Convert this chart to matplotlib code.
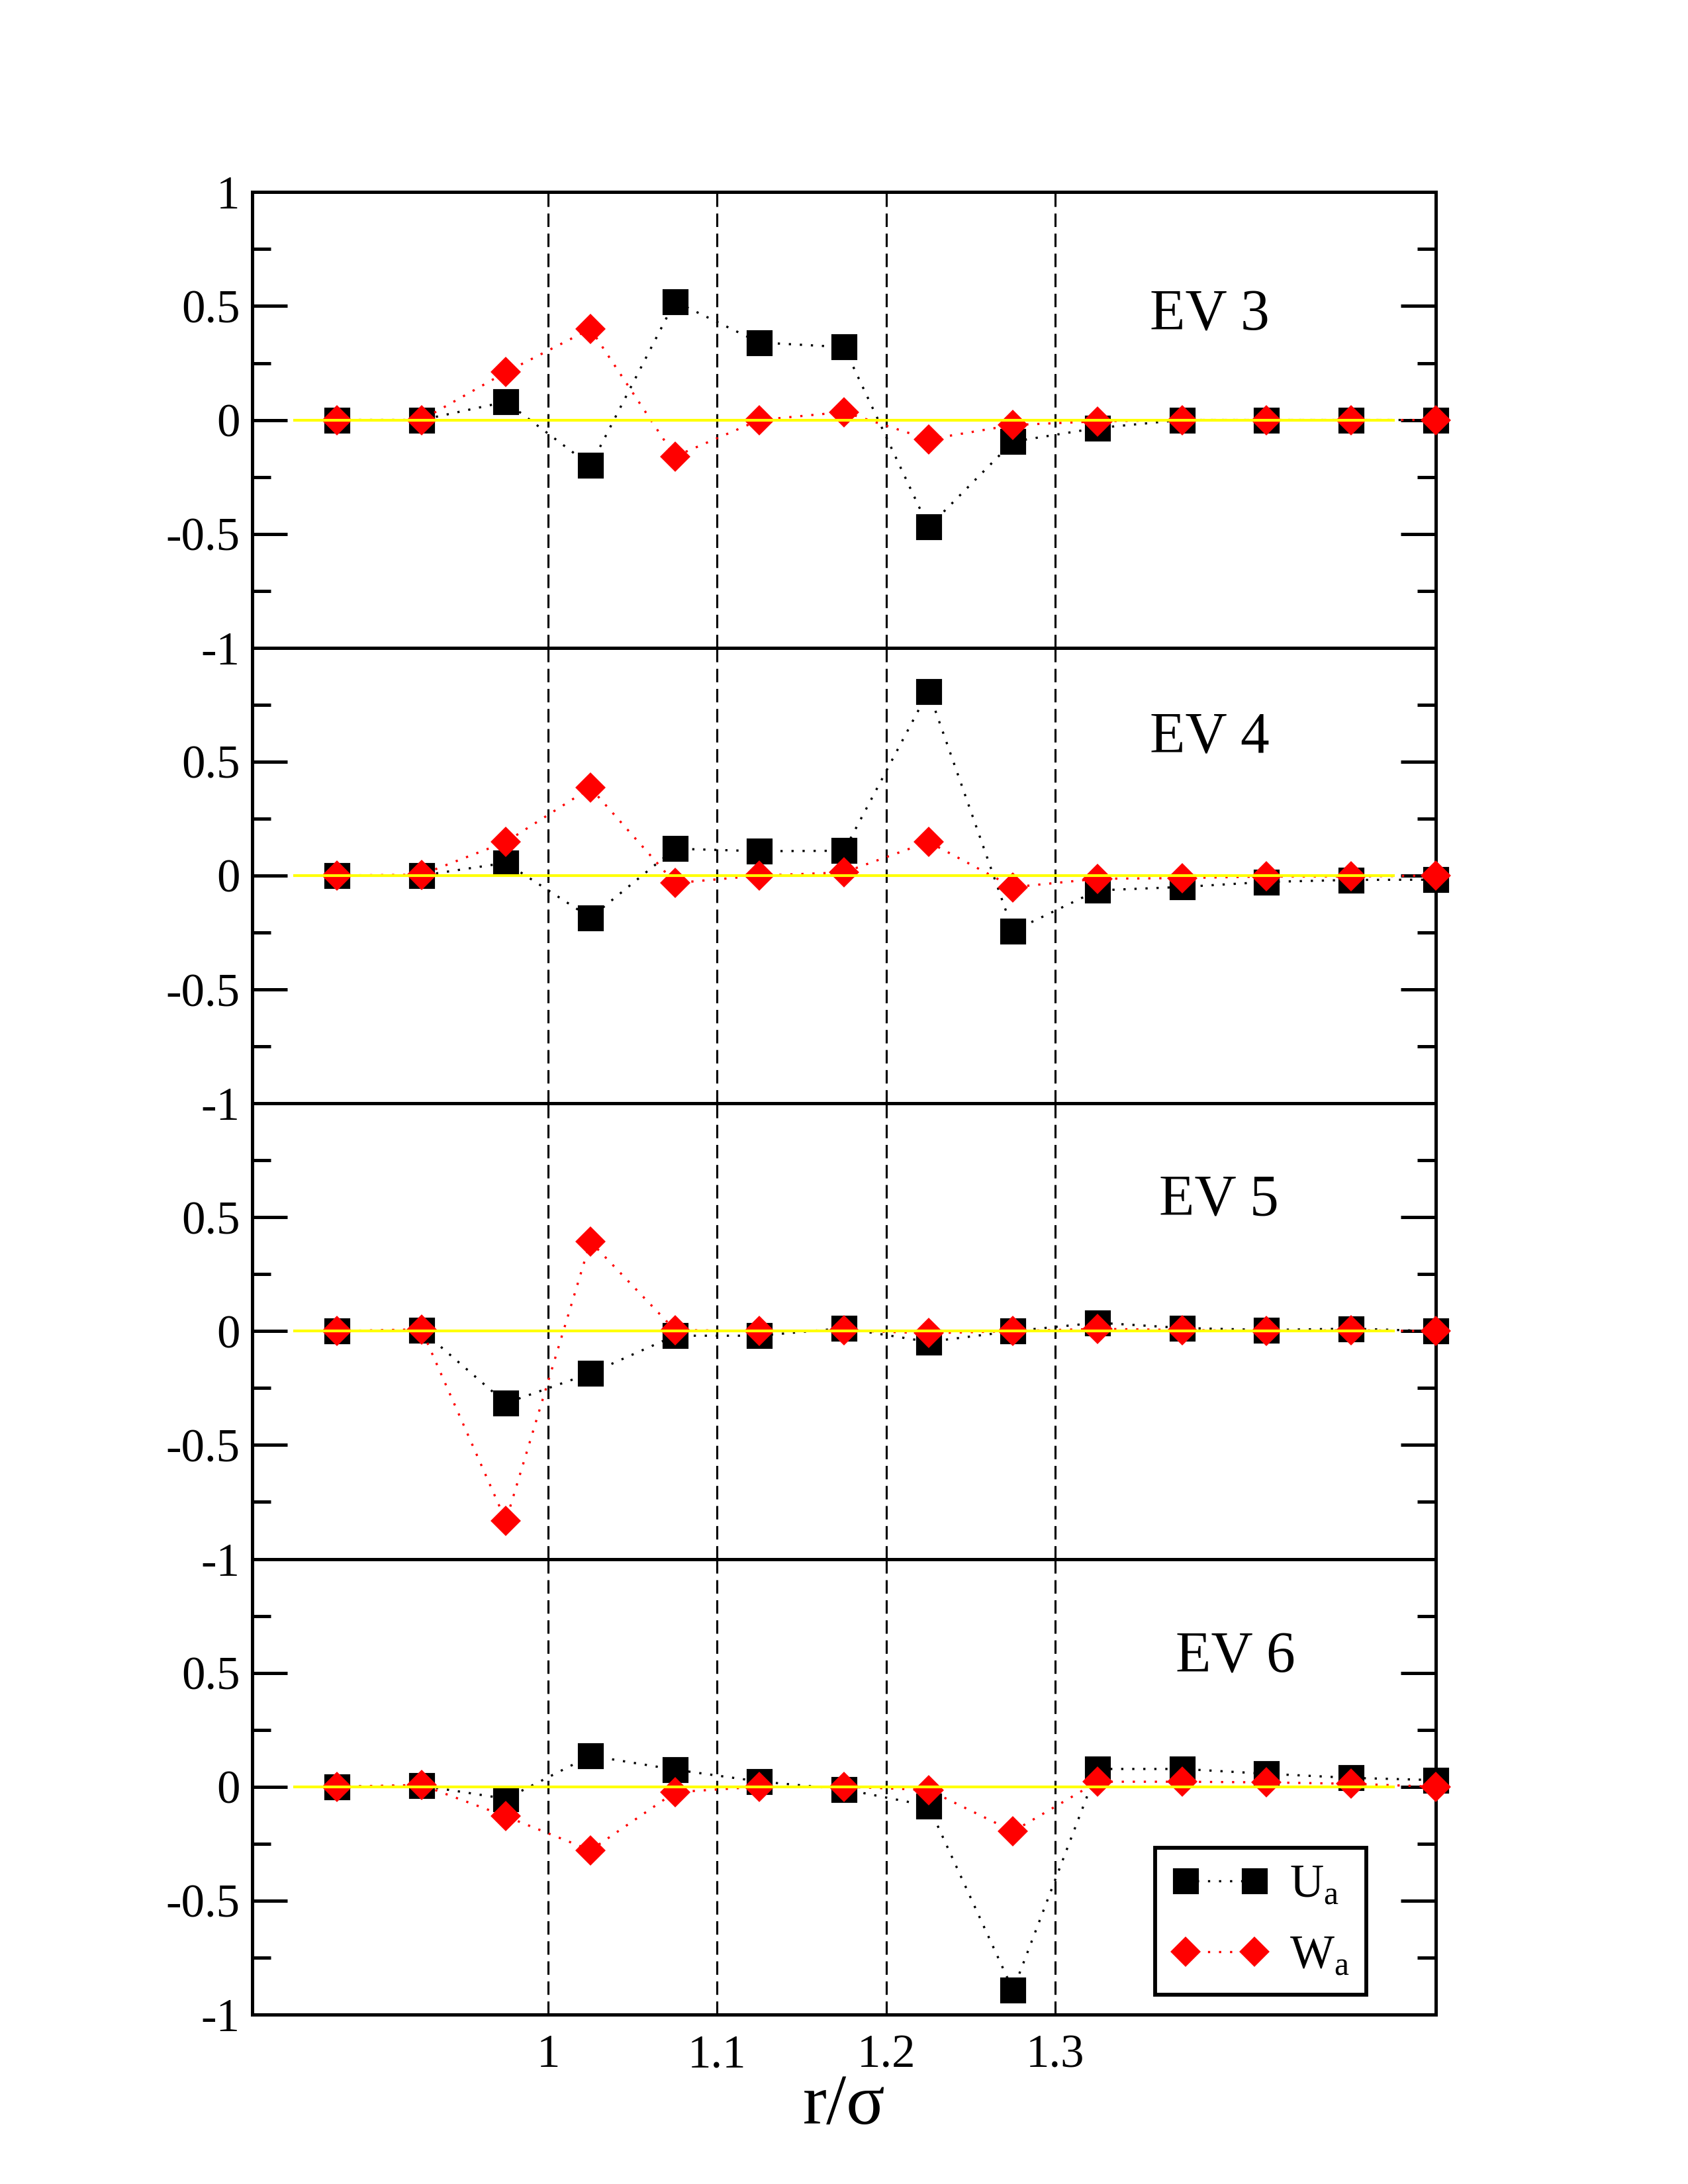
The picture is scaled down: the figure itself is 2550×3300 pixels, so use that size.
import numpy as np
import matplotlib as mpl
mpl.use('Agg')
from matplotlib import pyplot as plt
from matplotlib.ticker import MultipleLocator, FixedLocator

plt.rcParams['font.family'] = ['Liberation Serif', 'DejaVu Serif']
plt.rcParams['mathtext.fontset'] = 'custom'
plt.rcParams['mathtext.rm'] = 'Liberation Serif'
plt.rcParams['axes.unicode_minus'] = False

# r/sigma grid of the eigenvector components
r = [0.875, 0.925, 0.975, 1.025, 1.075, 1.125, 1.175,
     1.225, 1.275, 1.325, 1.375, 1.425, 1.475, 1.525]

ua_ev3 = [0.0, 0.0, 0.08, -0.2, 0.52, 0.34, 0.32, -0.47, -0.095, -0.035, 0.0, 0.0, 0.0, 0.0]
wa_ev3 = [0.0, 0.0, 0.21, 0.4, -0.16, 0.0, 0.035, -0.085, -0.022, -0.006, 0.0, 0.0, 0.0, 0.0]

ua_ev4 = [0.0, 0.0, 0.056, -0.185, 0.118, 0.107, 0.109, 0.809, -0.243, -0.065, -0.05, -0.028, -0.019, -0.018]
wa_ev4 = [0.0, 0.004, 0.148, 0.385, -0.033, 0.0, 0.014, 0.148, -0.051, -0.014, -0.011, -0.004, -0.004, 0.0]

ua_ev5 = [0.0, 0.005, -0.316, -0.185, -0.02, -0.02, 0.013, -0.047, 0.0, 0.037, 0.014, 0.005, 0.011, 0.0]
wa_ev5 = [0.0, 0.008, -0.833, 0.393, 0.005, 0.0, 0.003, -0.009, 0.0, 0.01, 0.005, 0.0, 0.004, 0.0]

ua_ev6 = [0.0, 0.005, -0.053, 0.136, 0.075, 0.023, -0.011, -0.084, -0.893, 0.078, 0.078, 0.057, 0.039, 0.029]
wa_ev6 = [0.0, 0.008, -0.13, -0.279, -0.024, 0.0, 0.0, -0.014, -0.196, 0.022, 0.022, 0.019, 0.013, 0.0]

panels = [("EV 3", ua_ev3, wa_ev3, (0.809, 0.697)),
          ("EV 4", ua_ev4, wa_ev4, (0.809, 0.771)),
          ("EV 5", ua_ev5, wa_ev5, (0.817, 0.755)),
          ("EV 6", ua_ev6, wa_ev6, (0.831, 0.752))]

shell_edges = [1.0, 1.1, 1.2, 1.3]
zero_line = ([0.85, 1.5], [0.0, 0.0])

fig, axes = plt.subplots(4, 1, sharex=True, figsize=(8.5, 11), dpi=300)
fig.subplots_adjust(left=0.1495, right=0.8505, top=0.912, bottom=0.0776, hspace=0)

for i, (ax, (name, ua, wa, pos)) in enumerate(zip(axes, panels)):
    for xe in shell_edges:
        ax.axvline(xe, color='black', lw=0.75, linestyle=(0, (6.5, 3.2)), zorder=1)
    lu, = ax.plot(r, ua, color='black', lw=0.8, linestyle=(0, (1, 4)),
                  marker='s', ms=8.4, mec='black', mfc='black', clip_on=False,
                  zorder=3, label=r'U$_\mathrm{a}$')
    lw_, = ax.plot(r, wa, color='red', lw=0.8, linestyle=(0, (1, 4)),
                   marker='D', ms=6.9, mec='red', mfc='red', clip_on=False,
                   zorder=4, label=r'W$_\mathrm{a}$')
    ax.plot(zero_line[0], zero_line[1], color='#ffff00', lw=1.0, zorder=5)
    ax.text(pos[0], pos[1], name, transform=ax.transAxes, fontsize=21,
            ha='center', va='baseline')

    ax.set_xlim(0.825, 1.525)
    ax.set_ylim(-1, 1)
    ax.yaxis.set_minor_locator(MultipleLocator(0.25))
    if i == 0:
        ticks = [-1, -0.5, 0, 0.5, 1]
        labels = ['-1', '-0.5', '0', '0.5', '1']
    else:
        ticks = [-1, -0.5, 0, 0.5]
        labels = ['-1', '-0.5', '0', '0.5']
    ax.yaxis.set_major_locator(FixedLocator(ticks))
    ax.set_yticklabels(labels)
    ax.tick_params(axis='y', which='major', direction='in', length=12.7, width=1.2,
                   left=True, right=True, labelsize=17, pad=4.5)
    ax.tick_params(axis='y', which='minor', direction='in', length=6.7, width=1.2,
                   left=True, right=True)
    ax.tick_params(axis='x', which='both', length=0, top=False, bottom=False)
    for sp in ax.spines.values():
        sp.set_linewidth(1.2)

axes[-1].set_xticks(shell_edges)
axes[-1].set_xticklabels(['1', '1.1', '1.2', '1.3'])
axes[-1].tick_params(axis='x', labelsize=17, pad=7)
axes[-1].set_xlabel("r/σ", fontsize=26, labelpad=-1)

leg = axes[-1].legend(handles=[lu, lw_], loc='lower left',
                      bbox_to_anchor=(0.763, 0.0435), borderaxespad=0,
                      numpoints=2, handlelength=2.07, handletextpad=0.45,
                      borderpad=0.35, labelspacing=0.6, fontsize=17,
                      fancybox=False, framealpha=1, edgecolor='black')
leg.get_frame().set_linewidth(1.4)

plt.savefig('out.png', dpi=300, facecolor='w', edgecolor='w')
